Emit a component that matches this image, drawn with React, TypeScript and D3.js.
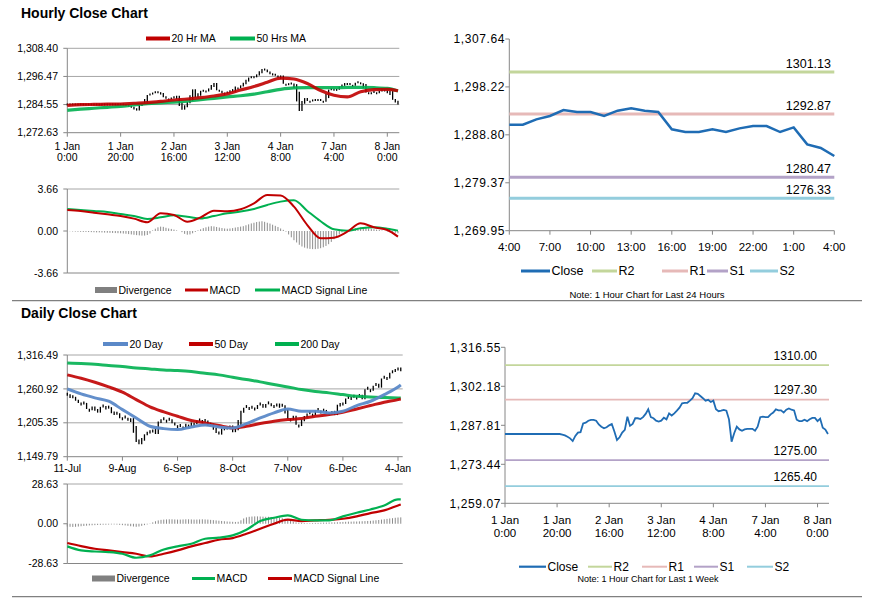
import React from "react";
import * as d3 from "d3";

const FONT = "'Liberation Sans', Arial, Helvetica, sans-serif";

// ---------------- Hourly (last week, 1-hour bars) ----------------
const hourlyTickLabels = ["1 Jan|0:00", "1 Jan|20:00", "2 Jan|16:00", "3 Jan|12:00", "4 Jan|8:00", "7 Jan|4:00", "8 Jan|0:00"];
const hourlyTickIdx = [0, 20, 40, 60, 80, 100, 120];
const hourlyPriceTicks = [1272.63, 1284.55, 1296.47, 1308.4];
const hourlyMacdTicks = [-3.66, 0, 3.66];

const hourlyClose = [
  1284.6, 1284.6, 1284.6, 1284.6, 1284.6, 1284.6, 1284.6, 1284.6, 1284.6, 1284.6, 1284.6,
  1284.6, 1284.6, 1284.6, 1284.6, 1284.6, 1284.6, 1284.6, 1284.6, 1284.6, 1284.6, 1284.6,
  1284.4, 1284.1, 1283.6, 1283.0, 1282.0, 1283.9, 1285.1, 1285.3, 1288.5, 1288.8,
  1289.5, 1289.8, 1289.8, 1289.5, 1288.1, 1287.3, 1286.7, 1287.1, 1287.8, 1288.3,
  1285.5, 1282.4, 1283.4, 1285.1, 1286.1, 1291.0, 1287.6, 1288.3, 1290.4, 1290.4,
  1290.1, 1290.8, 1292.0, 1293.7, 1290.8, 1290.4, 1289.5, 1289.2, 1289.5, 1290.6,
  1290.0, 1292.2, 1291.4, 1292.2, 1293.2, 1294.3, 1295.9, 1296.1, 1296.1, 1296.9,
  1297.8, 1299.6, 1299.4, 1298.6, 1297.8, 1296.9, 1297.2, 1296.4, 1296.9, 1293.7,
  1293.0, 1293.2, 1293.5, 1293.2, 1290.0, 1281.8, 1284.9, 1287.3, 1286.3, 1285.8,
  1286.3, 1286.5, 1286.5, 1286.5, 1285.8, 1287.3, 1290.8, 1291.0,
  1290.79, 1290.79, 1291.84, 1292.5, 1293.68, 1293.29, 1293.29, 1292.5, 1293.55, 1294.01,
  1293.55, 1293.29, 1289.88, 1289.35, 1289.35, 1289.88, 1289.35, 1290.07, 1290.53, 1290.53,
  1289.35, 1290.27, 1286.93, 1286.21, 1284.63,
];

const hourlySampleIdx = [0, 5, 10, 15, 20, 25, 30, 35, 40, 45, 50, 55, 60, 65, 70, 75, 80, 85, 90, 95, 100, 105, 110, 115, 120, 124];
const hourlyMA20 = [1284.25, 1284.5, 1284.6, 1284.7, 1284.8, 1285.1, 1285.4, 1285.9, 1286.5, 1286.9, 1287.5, 1288.2, 1289.1, 1290.7, 1292.2, 1294.0, 1295.8, 1295.4, 1293.5, 1290.5, 1288.5, 1287.8, 1290.0, 1290.9, 1291.0, 1290.4];
const hourlyMA50 = [1282.1, 1282.6, 1283.0, 1283.4, 1283.8, 1284.4, 1284.9, 1285.3, 1285.6, 1286.0, 1286.6, 1287.2, 1287.8, 1288.3, 1289.0, 1290.0, 1291.0, 1291.6, 1291.7, 1291.7, 1291.7, 1291.8, 1291.8, 1291.7, 1291.4, 1290.3];
const hourlyMACD = [1.83, 1.74, 1.6, 1.45, 1.31, 1.08, 0.76, 1.54, 1.4, 0.81, 1.19, 1.77, 1.72, 1.89, 2.41, 3.14, 3.1, 2.12, 0.52, -0.64, -0.58, -0.06, 0.67, 0.32, 0.09, -0.49];
const hourlySignal = [1.92, 1.83, 1.74, 1.66, 1.48, 1.31, 1.05, 1.19, 1.37, 1.25, 1.1, 1.31, 1.54, 1.69, 1.92, 2.27, 2.56, 2.68, 1.75, 0.85, 0.15, 0.03, 0.23, 0.32, 0.2, 0.03];
const hourlyDivergence = [
  0, -0.02, -0.04, -0.05, -0.06, -0.07, -0.08, -0.08, -0.09,
  -0.1, -0.11, -0.12, -0.12, -0.13, -0.14, -0.15, -0.16, -0.17, -0.18, -0.19, -0.2, -0.22, -0.24, -0.27, -0.3,
  -0.33, -0.36, -0.38, -0.4, -0.4, -0.35, -0.22,
  0.05, 0.2, 0.32, 0.38, 0.36,
  0.28, 0.22, 0.18, 0.12, 0.05, 0.0, -0.1,
  -0.25, -0.32, -0.3, -0.2, -0.08,
  0.05, 0.15, 0.25, 0.32, 0.38, 0.42, 0.4, 0.35, 0.3,
  0.26, 0.22, 0.2, 0.22, 0.25, 0.3, 0.34, 0.38, 0.42,
  0.5, 0.58, 0.66, 0.72, 0.78, 0.82, 0.85, 0.8,
  0.72, 0.65, 0.55, 0.45, 0.35, 0.22, 0.1, -0.05,
  -0.3, -0.55, -0.8, -1.0, -1.2, -1.35, -1.45,
  -1.52, -1.56, -1.58, -1.58, -1.55, -1.5, -1.42,
  -1.3, -1.15, -0.95, -0.72, -0.5, -0.3,
  -0.12, 0.02, 0.1, 0.15,
  0.2, 0.25, 0.28, 0.3, 0.3, 0.28,
  0.24, 0.2, 0.16, 0.12, 0.08,
  0.04, 0.0, -0.04, -0.08, -0.12, -0.16, -0.2,
];

// ---------------- Last 24 hours ----------------
const dayHourLabels = ["4:00", "7:00", "10:00", "13:00", "16:00", "19:00", "22:00", "1:00", "4:00"];
const dayHourIdx = [0, 3, 6, 9, 12, 15, 18, 21, 24];
const dayPriceTicks = [1269.95, 1279.37, 1288.8, 1298.22, 1307.64];
const last24Close = hourlyClose.slice(-25);
const levelNames = ["R2", "R1", "S1", "S2"];
const dayLevels = [1301.13, 1292.87, 1280.47, 1276.33];

// ---------------- Week (1-hour line) ----------------
const weekPriceTicks = [1259.07, 1273.44, 1287.81, 1302.18, 1316.55];
const weekLevels = [1310.0, 1297.3, 1275.0, 1265.4];

// ---------------- Daily ----------------
const dailyTickLabels = ["11-Jul", "9-Aug", "6-Sep", "8-Oct", "7-Nov", "6-Dec", "4-Jan"];
const dailyTickIdx = [0, 20, 40, 60, 80, 100, 120];
const dailyPriceTicks = [1149.79, 1205.35, 1260.92, 1316.49];
const dailyMacdTicks = [-28.63, 0, 28.63];
const dailyClose = [
  1252, 1246, 1248, 1243, 1240, 1236, 1238, 1230, 1226, 1232,
  1228, 1222, 1230, 1233, 1227, 1231, 1224, 1218, 1221, 1214,
  1212, 1215, 1211, 1213, 1200, 1178, 1170, 1176, 1185, 1188,
  1193, 1192, 1187, 1205, 1210, 1212, 1208, 1211, 1206, 1203,
  1199, 1201, 1197, 1204, 1200, 1206, 1203, 1208, 1210, 1205,
  1209, 1200, 1203, 1197, 1191, 1186, 1193, 1199, 1197, 1201,
  1190, 1193, 1198, 1222, 1228, 1232, 1229, 1231, 1228, 1233,
  1236, 1230, 1234, 1238, 1235, 1232, 1237, 1230, 1234, 1227,
  1214, 1210, 1217, 1204, 1200, 1208, 1214, 1219, 1222, 1218,
  1224, 1227, 1223, 1226, 1224, 1220, 1222, 1218, 1232, 1238,
  1236, 1243, 1247, 1245, 1249, 1246, 1250, 1244, 1259, 1262,
  1258, 1264, 1268, 1263, 1276, 1280, 1278, 1286, 1289, 1291,
  1296, 1290,
];
const dailySampleIdx = [0, 5, 10, 15, 20, 25, 30, 35, 40, 45, 50, 55, 60, 65, 70, 75, 80, 85, 90, 95, 100, 105, 110, 115, 120, 121];
const daily20 = [1260.9, 1252.7, 1246.2, 1240.7, 1227.0, 1213.3, 1199.7, 1195.8, 1194.2, 1198.6, 1201.9, 1198.6, 1197.0, 1204.1, 1213.3, 1221.6, 1228.1, 1224.3, 1224.3, 1221.6, 1224.3, 1233.6, 1240.7, 1251.6, 1264.2, 1267.5];
const daily50 = [1283.9, 1278.4, 1271.8, 1264.2, 1255.5, 1243.4, 1231.4, 1223.2, 1216.1, 1209.0, 1205.2, 1200.8, 1197.0, 1199.7, 1204.1, 1207.9, 1210.6, 1212.3, 1216.1, 1218.8, 1222.7, 1228.1, 1233.6, 1239.1, 1243.4, 1244.5];
const daily200 = [1303.5, 1302.4, 1301.4, 1299.2, 1297.5, 1295.3, 1293.7, 1292.1, 1291.0, 1289.3, 1286.6, 1283.9, 1280.0, 1276.2, 1272.4, 1268.0, 1264.2, 1259.8, 1256.5, 1254.4, 1251.6, 1248.9, 1247.8, 1246.7, 1246.2, 1246.2];
const dailyMACD = [-16.3, -19.2, -20.0, -20.4, -21.6, -24.5, -22.8, -18.5, -16.3, -14.4, -10.8, -10.0, -8.4, -4.3, 1.9, 4.3, 6.0, 2.9, 2.4, 2.4, 5.3, 7.9, 10.3, 13.2, 17.5, 17.5];
const dailySignal = [-13.9, -16.1, -18.0, -19.2, -20.4, -21.6, -23.6, -21.6, -19.2, -16.3, -13.9, -11.5, -10.3, -7.2, -3.6, 0.0, 2.9, 1.9, 2.4, 2.9, 3.6, 5.3, 7.7, 9.6, 13.2, 13.9];
const dailyDivergence = [
  -2.0, -2.2, -2.3, -2.2, -2.0, -1.8, -1.6,
  -1.4, -1.2, -1.1, -1.0, -0.9, -0.8, -0.7, -0.7,
  -0.6, -0.5, -0.5, -0.6, -0.8, -1.0, -1.2,
  -1.5, -1.8, -2.0, -2.2, -2.0,
  -1.5, -1.0, -0.5, 0.2, 1.0, 1.8, 2.4,
  2.8, 3.0, 3.1, 3.2, 3.2, 3.1, 3.0, 3.0, 3.1, 3.2, 3.2, 3.1, 3.0, 3.0, 3.1, 3.2, 3.1, 3.0, 2.8, 2.6, 2.4, 2.2, 2.0, 1.8, 1.6, 1.5, 1.4,
  1.3, 1.4, 2.5, 3.8,
  4.6, 5.0, 5.2, 5.3, 5.3, 5.2, 5.1, 5.0, 5.0, 4.9, 4.8, 4.6, 4.4, 4.0, 3.6, 3.0,
  2.2, 1.5,
  1.0, 0.8, 0.6, 0.5, 0.4, 0.4, 0.5, 0.6, 0.6, 0.7, 0.8, 0.8, 0.9, 1.0, 1.0, 1.1, 1.2, 1.3,
  1.4, 1.5, 1.5, 1.6, 1.6, 1.7, 1.8, 1.9, 2.0, 2.1,
  2.3, 2.5, 2.7, 3.0, 3.2, 3.5, 3.8, 4.0, 4.3, 4.5, 4.6,
];

// ---------------- styles ----------------
const COL = {
  red: "#C00000",
  green: "#00B050",
  blue20: "#5B89C8",
  grid: "#A6A6A6",
  axis: "#868686",
  div: "#8C8C8C",
  close: "#1F6CB4",
};
const LEVEL_COLORS: Record<string, string> = { R2: "#C3D69B", R1: "#E6B9B8", S1: "#B3A2C7", S2: "#93CDDD" };

const locale = d3.formatLocale({ decimal: ".", thousands: ",", grouping: [3], currency: ["$", ""], minus: "-" });
const fmtComma = locale.format(",.2f");
const fmtPlain = locale.format(".2f");

type Scale = d3.ScaleLinear<number, number>;

function sampledPath(idx: number[], vals: number[], x: Scale, y: Scale) {
  return d3
    .line<number>()
    .x((_, i) => x(idx[i]))
    .y((d) => y(d))
    .curve(d3.curveMonotoneX)(vals) as string;
}

function seriesPath(vals: number[], x: Scale, y: Scale) {
  return d3
    .line<number>()
    .x((_, i) => x(i))
    .y((d) => y(d))(vals) as string;
}

// vertical range bars spanning the closes around each hour/day
function RangeBars({ close, x, y, minH }: { close: number[]; x: Scale; y: Scale; minH: number }) {
  return (
    <g>
      {close.map((c, i) => {
        const p = i > 0 ? close[i - 1] : c;
        const n = i < close.length - 1 ? close[i + 1] : c;
        const hi = Math.max(p, c, (c + n) / 2);
        const lo = Math.min(p, c, (c + n) / 2);
        let y1 = y(hi);
        let y2 = y(lo);
        if (y2 - y1 < minH) {
          const m = y(c);
          y1 = m - minH / 2;
          y2 = m + minH / 2;
        }
        return <line key={i} x1={x(i)} x2={x(i)} y1={y1} y2={y2} stroke="#000" strokeWidth={1.3} />;
      })}
    </g>
  );
}

function Histogram({ vals, x, y }: { vals: number[]; x: Scale; y: Scale }) {
  return (
    <g>
      {vals.map((v, i) => (
        <line key={i} x1={x(i)} x2={x(i)} y1={y(0)} y2={y(v)} stroke={COL.div} strokeWidth={1} />
      ))}
    </g>
  );
}

function YAxis({
  x, y, ticks, fmt, size, labelX, ls = 0, grid,
}: {
  x: Scale; y: Scale; ticks: number[]; fmt: (n: number) => string; size: number; labelX: number; ls?: number; grid?: number[];
}) {
  const [r0, r1] = y.range();
  const x0 = x.range()[0];
  return (
    <g>
      {(grid || []).map((g, i) => (
        <line key={"g" + i} x1={x0} x2={x.range()[1]} y1={y(g)} y2={y(g)} stroke={COL.grid} strokeWidth={1} />
      ))}
      <line x1={x0} x2={x0} y1={r0} y2={r1} stroke={COL.axis} strokeWidth={1} />
      {ticks.map((t, i) => (
        <g key={i}>
          <line x1={x0 - 4} x2={x0} y1={y(t)} y2={y(t)} stroke={COL.axis} strokeWidth={1} />
          <text x={labelX} y={y(t)} dy="0.35em" textAnchor="end" fontSize={size} letterSpacing={ls} fill="#000">
            {fmt(t)}
          </text>
        </g>
      ))}
    </g>
  );
}

function XAxis({
  x, yPos, idx, labels, size, line1, line2,
}: {
  x: Scale; yPos: number; idx: number[]; labels: string[]; size: number; line1: number; line2?: number;
}) {
  return (
    <g>
      <line x1={x.range()[0]} x2={x.range()[1]} y1={yPos} y2={yPos} stroke={COL.axis} strokeWidth={1} />
      {idx.map((t, i) => {
        const parts = labels[i].split("|");
        return (
          <g key={i}>
            <line x1={x(t)} x2={x(t)} y1={yPos} y2={yPos + 4} stroke={COL.axis} strokeWidth={1} />
            <text x={x(t)} y={line1} textAnchor="middle" fontSize={size} fill="#000">
              {parts[0]}
            </text>
            {parts[1] !== undefined && line2 !== undefined && (
              <text x={x(t)} y={line2} textAnchor="middle" fontSize={size} fill="#000">
                {parts[1]}
              </text>
            )}
          </g>
        );
      })}
    </g>
  );
}

function LegendLine({ x1, x2, y, color, w, label, size }: { x1: number; x2: number; y: number; color: string; w: number; label: string; size: number }) {
  return (
    <g>
      <line x1={x1} x2={x2} y1={y} y2={y} stroke={color} strokeWidth={w} />
      <text x={x2 + 1.5} y={y} dy="0.35em" fontSize={size} fill="#000">
        {label}
      </text>
    </g>
  );
}

function LegendRect({ x1, x2, y, label, size }: { x1: number; x2: number; y: number; label: string; size: number }) {
  return (
    <g>
      <rect x={x1} y={y - 3} width={x2 - x1} height={6} fill="#808080" />
      <text x={x2 + 1.5} y={y} dy="0.35em" fontSize={size} fill="#000">
        {label}
      </text>
    </g>
  );
}

export default function App() {
  // hourly price + macd
  const hx = d3.scaleLinear().domain([0, 124.5]).range([67.3, 399.3]);
  const hy = d3.scaleLinear().domain([hourlyPriceTicks[0], hourlyPriceTicks[3]]).range([132.7, 48.3]);
  const hmy = d3.scaleLinear().domain([hourlyMacdTicks[0], hourlyMacdTicks[2]]).range([273, 189]);
  // daily price + macd
  const dx = d3.scaleLinear().domain([0, 121.7]).range([67.3, 402.7]);
  const dy = d3.scaleLinear().domain([dailyPriceTicks[0], dailyPriceTicks[3]]).range([456.7, 355]);
  const dmy = d3.scaleLinear().domain([dailyMacdTicks[0], dailyMacdTicks[2]]).range([563.5, 484]);
  // last 24h
  const tx = d3.scaleLinear().domain([0, 24]).range([509.3, 834.3]);
  const ty = d3.scaleLinear().domain([dayPriceTicks[0], dayPriceTicks[4]]).range([230.7, 39]);
  // week
  const wx = d3.scaleLinear().domain([0, 124.4]).range([505, 829]);
  const wy = d3.scaleLinear().domain([weekPriceTicks[0], weekPriceTicks[4]]).range([503.3, 347.3]);

  const S = 10.5;

  return (
    <div style={{ position: "absolute", left: 0, top: 0, width: 873, height: 601, background: "#fff" }}>
      <svg width={873} height={601} style={{ display: "block", fontFamily: FONT }}>
        <rect x={0} y={0} width={873} height={601} fill="#fff" />

        {/* ===== Hourly Close Chart ===== */}
        <text x={21} y={18} fontSize={14} fontWeight="bold" fill="#000">Hourly Close Chart</text>
        <LegendLine x1={146} x2={170} y={38.5} color={COL.red} w={4} label="20 Hr MA" size={S} />
        <LegendLine x1={230} x2={255} y={38.5} color={COL.green} w={4} label="50 Hrs MA" size={S} />

        <YAxis x={hx} y={hy} ticks={hourlyPriceTicks} fmt={fmtComma} size={S} labelX={58} grid={hourlyPriceTicks.slice(1)} />
        <XAxis x={hx} yPos={hy(hourlyPriceTicks[0])} idx={hourlyTickIdx} labels={hourlyTickLabels} size={S} line1={149.5} line2={161} />
        <RangeBars close={hourlyClose} x={hx} y={hy} minH={2} />
        <path d={sampledPath(hourlySampleIdx, hourlyMA50, hx, hy)} fill="none" stroke={COL.green} strokeWidth={3.2} strokeOpacity={0.9} />
        <path d={sampledPath(hourlySampleIdx, hourlyMA20, hx, hy)} fill="none" stroke={COL.red} strokeWidth={3.2} strokeOpacity={0.9} />

        {/* hourly MACD */}
        <line x1={hx.range()[0]} x2={hx.range()[1]} y1={hmy(hourlyMacdTicks[2])} y2={hmy(hourlyMacdTicks[2])} stroke={COL.grid} />
        <line x1={hx.range()[0]} x2={hx.range()[1]} y1={hmy(hourlyMacdTicks[0])} y2={hmy(hourlyMacdTicks[0])} stroke={COL.axis} />
        <YAxis x={hx} y={hmy} ticks={hourlyMacdTicks} fmt={fmtComma} size={S} labelX={58} />
        <Histogram vals={hourlyDivergence} x={hx} y={hmy} />
        <path d={sampledPath(hourlySampleIdx, hourlySignal, hx, hmy)} fill="none" stroke={COL.green} strokeWidth={2} />
        <path d={sampledPath(hourlySampleIdx, hourlyMACD, hx, hmy)} fill="none" stroke={COL.red} strokeWidth={2} />
        <LegendRect x1={95} x2={117} y={290} label="Divergence" size={S} />
        <LegendLine x1={185} x2={208} y={290} color={COL.red} w={3} label="MACD" size={S} />
        <LegendLine x1={255} x2={280} y={290} color={COL.green} w={3} label="MACD Signal Line" size={S} />

        {/* ===== Last 24 hours ===== */}
        <YAxis x={tx} y={ty} ticks={dayPriceTicks} fmt={fmtComma} size={12} labelX={505} ls={0.6} />
        <XAxis x={tx} yPos={ty(dayPriceTicks[0])} idx={dayHourIdx} labels={dayHourLabels} size={11.5} line1={251} />
        {dayLevels.map((v, i) => (
          <g key={i}>
            <line x1={tx.range()[0]} x2={tx.range()[1]} y1={ty(v)} y2={ty(v)} stroke={LEVEL_COLORS[levelNames[i]]} strokeWidth={3} />
            <text x={831} y={ty(v) - 4.5} textAnchor="end" fontSize={12.5} fill="#000">{fmtPlain(v)}</text>
          </g>
        ))}
        <path d={seriesPath(last24Close, tx, ty)} fill="none" stroke={COL.close} strokeWidth={2.5} />
        <LegendLine x1={521} x2={550} y={271} color={COL.close} w={3} label="Close" size={12.5} />
        {levelNames.map((n, i) => {
          const pos = [
            [592, 617],
            [662, 688],
            [707, 728],
            [750, 778],
          ][i];
          return <LegendLine key={n} x1={pos[0]} x2={pos[1]} y={271} color={LEVEL_COLORS[n]} w={3} label={n} size={12.5} />;
        })}
        <text x={647} y={298} textAnchor="middle" fontSize={9.5} fill="#000">Note: 1 Hour Chart for Last 24 Hours</text>

        {/* separators */}
        <line x1={12} x2={862} y1={300.7} y2={300.7} stroke="#808080" strokeWidth={1.3} />
        <line x1={12} x2={862} y1={596.7} y2={596.7} stroke="#808080" strokeWidth={1.3} />

        {/* ===== Daily Close Chart ===== */}
        <text x={21} y={318} fontSize={14} fontWeight="bold" fill="#000">Daily Close Chart</text>
        <LegendLine x1={103} x2={128} y={344} color={COL.blue20} w={4} label="20 Day" size={S} />
        <LegendLine x1={189} x2={213} y={344} color={COL.red} w={4} label="50 Day" size={S} />
        <LegendLine x1={275} x2={299} y={344} color={COL.green} w={4} label="200 Day" size={S} />

        <YAxis x={dx} y={dy} ticks={dailyPriceTicks} fmt={fmtComma} size={S} labelX={58} grid={dailyPriceTicks.slice(1)} />
        <XAxis x={dx} yPos={dy(dailyPriceTicks[0])} idx={dailyTickIdx} labels={dailyTickLabels} size={S} line1={472} />
        <RangeBars close={dailyClose} x={dx} y={dy} minH={3} />
        <path d={sampledPath(dailySampleIdx, daily200, dx, dy)} fill="none" stroke={COL.green} strokeWidth={3} strokeOpacity={0.9} />
        <path d={sampledPath(dailySampleIdx, daily50, dx, dy)} fill="none" stroke={COL.red} strokeWidth={3} strokeOpacity={0.9} />
        <path d={sampledPath(dailySampleIdx, daily20, dx, dy)} fill="none" stroke={COL.blue20} strokeWidth={3} strokeOpacity={0.95} />

        {/* daily MACD */}
        <line x1={dx.range()[0]} x2={dx.range()[1]} y1={dmy(dailyMacdTicks[2])} y2={dmy(dailyMacdTicks[2])} stroke={COL.grid} />
        <line x1={dx.range()[0]} x2={dx.range()[1]} y1={dmy(dailyMacdTicks[0])} y2={dmy(dailyMacdTicks[0])} stroke={COL.axis} />
        <YAxis x={dx} y={dmy} ticks={dailyMacdTicks} fmt={fmtComma} size={S} labelX={58} />
        <Histogram vals={dailyDivergence} x={dx} y={dmy} />
        <path d={sampledPath(dailySampleIdx, dailySignal, dx, dmy)} fill="none" stroke={COL.red} strokeWidth={2.2} />
        <path d={sampledPath(dailySampleIdx, dailyMACD, dx, dmy)} fill="none" stroke={COL.green} strokeWidth={2.2} />
        <LegendRect x1={92} x2={115} y={578.5} label="Divergence" size={S} />
        <LegendLine x1={192} x2={215} y={578.5} color={COL.green} w={3} label="MACD" size={S} />
        <LegendLine x1={268} x2={292} y={578.5} color={COL.red} w={3} label="MACD Signal Line" size={S} />

        {/* ===== Week chart ===== */}
        <YAxis x={wx} y={wy} ticks={weekPriceTicks} fmt={fmtComma} size={12} labelX={501} ls={0.6} />
        <XAxis x={wx} yPos={wy(weekPriceTicks[0])} idx={hourlyTickIdx} labels={hourlyTickLabels} size={11.5} line1={523.5} line2={537} />
        {weekLevels.map((v, i) => (
          <g key={i}>
            <line x1={wx.range()[0]} x2={wx.range()[1]} y1={wy(v)} y2={wy(v)} stroke={LEVEL_COLORS[levelNames[i]]} strokeWidth={1.8} />
            <text x={817} y={wy(v) - 5.5} textAnchor="end" fontSize={12} fill="#000">{fmtPlain(v)}</text>
          </g>
        ))}
        <path d={seriesPath(hourlyClose, wx, wy)} fill="none" stroke={COL.close} strokeWidth={1.8} />
        <LegendLine x1={519} x2={546} y={566.7} color={COL.close} w={2.2} label="Close" size={12} />
        {levelNames.map((n, i) => {
          const pos = [
            [588, 612],
            [642, 667],
            [694, 718],
            [747, 773],
          ][i];
          return <LegendLine key={n} x1={pos[0]} x2={pos[1]} y={566.7} color={LEVEL_COLORS[n]} w={2} label={n} size={12} />;
        })}
        <text x={648} y={581.5} textAnchor="middle" fontSize={9} fill="#000">Note: 1 Hour Chart for Last 1 Week</text>
      </svg>
    </div>
  );
}
